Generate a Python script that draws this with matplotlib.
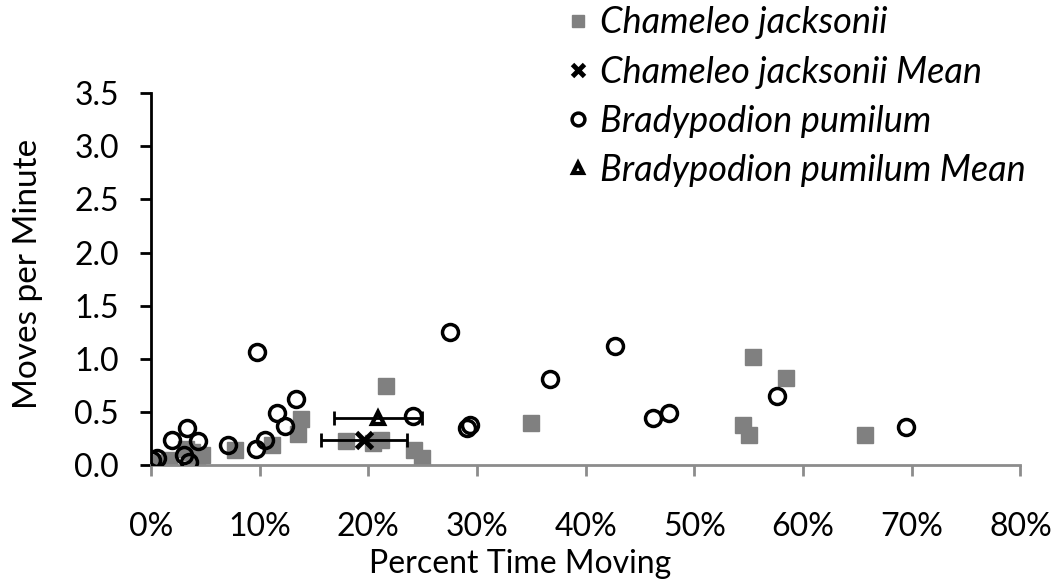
import matplotlib.pyplot as plt
from matplotlib.ticker import FuncFormatter

plt.rcParams['font.family'] = ['Lato', 'DejaVu Sans']

# Chameleo jacksonii (percent time moving, moves per minute)
cj_x = [0.2, 1.7, 3.2, 3.8, 4.2, 4.7, 7.7, 11.1, 13.5, 13.8, 17.9, 20.4, 21.2,
        21.6, 24.2, 24.9, 35.0, 54.5, 55.0, 55.4, 58.4, 65.7]
cj_y = [0.02, 0.05, 0.15, 0.12, 0.05, 0.09, 0.14, 0.19, 0.29, 0.43, 0.23, 0.21,
        0.24, 0.74, 0.14, 0.07, 0.40, 0.38, 0.28, 1.02, 0.82, 0.28]

# Bradypodion pumilum
bp_x = [0.1, 0.6, 1.9, 3.3, 4.3, 3.0, 3.5, 7.1, 9.7, 10.5, 11.6, 12.3, 13.3,
        9.8, 24.1, 27.5, 29.1, 29.4, 36.7, 42.7, 46.2, 47.7, 57.6, 69.5]
bp_y = [0.05, 0.07, 0.24, 0.35, 0.23, 0.09, 0.03, 0.19, 0.15, 0.24, 0.49, 0.37,
        0.62, 1.06, 0.46, 1.25, 0.35, 0.38, 0.81, 1.12, 0.44, 0.49, 0.65, 0.36]

# means with x error
cj_mean = (19.6, 0.24)
cj_err = 3.95
bp_mean = (20.9, 0.44)
bp_err = 4.05

fig = plt.figure(figsize=(10.63, 5.82), dpi=100)
ax = fig.add_axes([0.142, 0.201, 0.818, 0.639])

h1, = ax.plot(cj_x, cj_y, 's', color='#808080', markersize=11.5, linestyle='none',
              label='Chameleo jacksonii', zorder=2)
ax.errorbar(cj_mean[0], cj_mean[1], xerr=cj_err, fmt='none', ecolor='black',
            elinewidth=2, capsize=5, capthick=2, zorder=3)
h2, = ax.plot([cj_mean[0]], [cj_mean[1]], 'x', color='black', markersize=11,
              markeredgewidth=3.5, linestyle='none',
              label='Chameleo jacksonii Mean', zorder=4)
h3, = ax.plot(bp_x, bp_y, 'o', markerfacecolor='none', markeredgecolor='black',
              markersize=11.5, markeredgewidth=2.5, linestyle='none',
              label='Bradypodion pumilum', zorder=5)
ax.errorbar(bp_mean[0], bp_mean[1], xerr=bp_err, fmt='none', ecolor='black',
            elinewidth=2, capsize=5, capthick=2, zorder=3)
h4, = ax.plot([bp_mean[0]], [bp_mean[1]], '^', markerfacecolor='none',
              markeredgecolor='black', markersize=8.5, markeredgewidth=3,
              linestyle='none', label='Bradypodion pumilum Mean', zorder=6)

ax.set_xlim(0, 80)
ax.set_ylim(0, 3.5)
ax.set_xticks(range(0, 81, 10))
ax.set_yticks([0, 0.5, 1.0, 1.5, 2.0, 2.5, 3.0, 3.5])
ax.xaxis.set_major_formatter(FuncFormatter(lambda v, p: f'{v:.0f}%'))
ax.yaxis.set_major_formatter(FuncFormatter(lambda v, p: f'{v:.1f}'))

for s in ['top', 'right']:
    ax.spines[s].set_visible(False)
ax.spines['bottom'].set_color('#8c8c8c')
ax.spines['bottom'].set_linewidth(2)
ax.spines['left'].set_color('black')
ax.spines['left'].set_linewidth(2)
ax.tick_params(axis='x', colors='#8c8c8c', labelcolor='black', length=8, width=2,
               labelsize=23, pad=26)
ax.tick_params(axis='y', length=8, width=2, labelsize=23, pad=15)

ax.set_xlabel('Percent Time Moving', fontsize=23)
ax.set_ylabel('Moves per Minute', fontsize=24)
ax.xaxis.set_label_coords(0.425, -0.225)
ax.yaxis.set_label_coords(-0.124, 0.515)

leg = fig.legend(handles=[h1, h2, h3, h4], loc='upper left',
                 bbox_to_anchor=(0.503, 1.045), frameon=False,
                 prop={'style': 'italic', 'size': 26}, handlelength=0.6,
                 handletextpad=0.3, labelspacing=0.45, markerscale=0.8)

fig.savefig('out.png', dpi=100)
